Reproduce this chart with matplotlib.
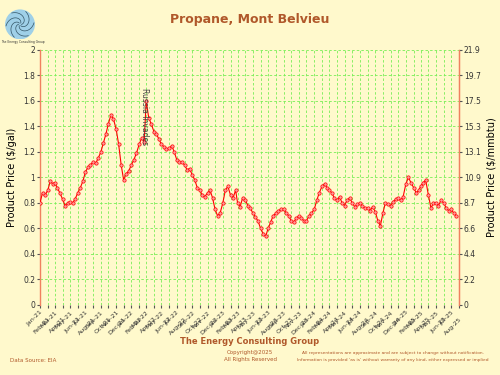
import numpy as np
import pandas as pd
import matplotlib
matplotlib.use("Agg")
import matplotlib.pyplot as plt
from matplotlib.patches import Circle

# three readings per month (1st, 11th, 21st), Jan-2021 .. Jul-2025, $/gal
price_2021 = [0.80, 0.88, 0.86, 0.90, 0.97, 0.95, 0.96, 0.92, 0.88, 0.83, 0.78, 0.80,
              0.81, 0.80, 0.83, 0.88, 0.92, 0.97, 1.04, 1.08, 1.10, 1.12, 1.11, 1.15,
              1.20, 1.27, 1.34, 1.42, 1.49, 1.46, 1.38, 1.26, 1.10, 0.98, 1.03, 1.05]
price_2022 = [1.10, 1.14, 1.19, 1.26, 1.31, 1.28, 1.60, 1.47, 1.42, 1.36, 1.34, 1.30,
              1.26, 1.24, 1.22, 1.23, 1.25, 1.20, 1.14, 1.12, 1.12, 1.10, 1.06, 1.07,
              1.02, 0.98, 0.92, 0.90, 0.86, 0.85, 0.88, 0.90, 0.84, 0.75, 0.70, 0.72]
price_2023 = [0.80, 0.90, 0.93, 0.86, 0.84, 0.90, 0.80, 0.77, 0.84, 0.82, 0.78, 0.76,
              0.72, 0.69, 0.66, 0.60, 0.56, 0.54, 0.60, 0.65, 0.70, 0.72, 0.74, 0.75,
              0.75, 0.72, 0.70, 0.66, 0.65, 0.68, 0.70, 0.68, 0.66, 0.66, 0.70, 0.72]
price_2024 = [0.75, 0.82, 0.88, 0.93, 0.95, 0.92, 0.90, 0.88, 0.84, 0.82, 0.85, 0.80,
              0.78, 0.82, 0.84, 0.80, 0.77, 0.79, 0.80, 0.78, 0.76, 0.76, 0.74, 0.77,
              0.73, 0.66, 0.62, 0.72, 0.80, 0.79, 0.78, 0.81, 0.83, 0.84, 0.82, 0.85]
price_2025 = [0.95, 1.00, 0.96, 0.92, 0.88, 0.90, 0.93, 0.96, 0.98, 0.86, 0.76, 0.80,
              0.80, 0.78, 0.82, 0.80, 0.76, 0.74, 0.75, 0.72, 0.70]

month_starts = pd.date_range("2021-01-01", "2025-07-01", freq="MS")
dates = [m + pd.Timedelta(days=d) for m in month_starts for d in (0, 10, 20)]
prices = price_2021 + price_2022 + price_2023 + price_2024 + price_2025

tick_months = pd.date_range("2021-01-01", "2025-08-01", freq="MS")
tick_labels = [m.strftime("%b-%y") for m in tick_months]
right_ticks = ["0", "2.2", "4.4", "6.6", "8.7", "10.9", "13.1", "15.3", "17.5", "19.7", "21.9"]

bg = "#FFF9CC"
brown = "#B0582A"
spine_c = "#F08060"
grid_c = "#77EE55"

fig = plt.figure(figsize=(5, 3.75), dpi=100, facecolor=bg)
ax = fig.add_axes([0.08, 0.1867, 0.838, 0.68], facecolor=bg)

ax.plot(dates, prices, color="red", lw=0.8, marker="o", ms=2.4,
        mfc="#FF9999", mec="red", mew=0.5, zorder=3)

ax.set_ylim(0, 2)
ax.set_yticks(np.arange(0, 2.01, 0.2))
ax.set_yticklabels(["0", "0.2", "0.4", "0.6", "0.8", "1", "1.2", "1.4", "1.6", "1.8", "2"])
ax.set_xlim(tick_months[0], tick_months[-1])
ax.set_xticks(tick_months)
ax.set_xticklabels(tick_labels, rotation=45, ha="right", rotation_mode="anchor")
for i, lab in enumerate(ax.get_xticklabels()):
    if i % 2:
        lab.set_y(-0.025)
ax.tick_params(axis="x", labelsize=4.5, length=2.5, color="#555555", labelcolor="#333333", pad=1)
ax.tick_params(axis="y", labelsize=5.5, length=2.5, color="#555555", labelcolor="#333333", pad=1)
ax.grid(True, color=grid_c, ls=(0, (3, 2.5)), lw=0.6)
for s in ("top", "bottom"):
    ax.spines[s].set_visible(False)
for s in ("left", "right"):
    ax.spines[s].set_color(spine_c)
    ax.spines[s].set_linewidth(1.0)
ax.set_ylabel("Product Price ($/gal)", fontsize=7, labelpad=4)

ax2 = ax.twinx()
ax2.set_ylim(0, 21.9)
ax2.set_yticks(np.linspace(0, 21.9, 11))
ax2.set_yticklabels(right_ticks)
ax2.tick_params(axis="y", labelsize=5.5, length=2.5, color="#555555", labelcolor="#333333", pad=1)
for s in ("top", "bottom", "left"):
    ax2.spines[s].set_visible(False)
ax2.spines["right"].set_color(spine_c)
ax2.set_ylabel("Product Price ($/mmbtu)", fontsize=7, labelpad=4)

ax.text(pd.Timestamp("2022-02-24"), 1.70, "Russia Invades", rotation=-90, fontsize=5.5,
        color="#444444", ha="center", va="top", zorder=4)

fig.text(0.5, 0.947, "Propane, Mont Belvieu", ha="center", va="center",
         fontsize=9, fontweight="bold", color=brown)

# logo
lax = fig.add_axes([0.01, 0.895, 0.06, 0.08])
lax.set_xlim(-1, 1)
lax.set_ylim(-1, 1)
lax.set_aspect("equal")
lax.axis("off")
lax.add_patch(Circle((0, 0), 0.95, color="#9FD0E8"))
t = np.linspace(0, 2.2, 50)
for k in range(6):
    a = k * np.pi / 3
    r = 0.1 + 0.38 * t
    lax.plot(r * np.cos(t + a), r * np.sin(t + a), color="#335566", lw=0.5)
fig.text(0.045, 0.885, "The Energy Consulting Group", fontsize=2.2, ha="center", color="#333333")

fig.text(0.5, 0.082, "The Energy Consulting Group", ha="center", fontsize=6,
         fontweight="bold", color=brown)
fig.text(0.5, 0.056, "Copyright@2025", ha="center", fontsize=4, color=brown)
fig.text(0.5, 0.036, "All Rights Reserved", ha="center", fontsize=4, color=brown)
fig.text(0.02, 0.036, "Data Source: EIA", ha="left", fontsize=4, color=brown)
fig.text(0.785, 0.056, "All representations are approximate and are subject to change without notification.",
         ha="center", fontsize=3.2, color=brown)
fig.text(0.785, 0.036, "Information is provided 'as is' without warranty of any kind, either expressed or implied",
         ha="center", fontsize=3.2, color=brown)

fig.savefig("out.png", dpi=100, facecolor=bg)
